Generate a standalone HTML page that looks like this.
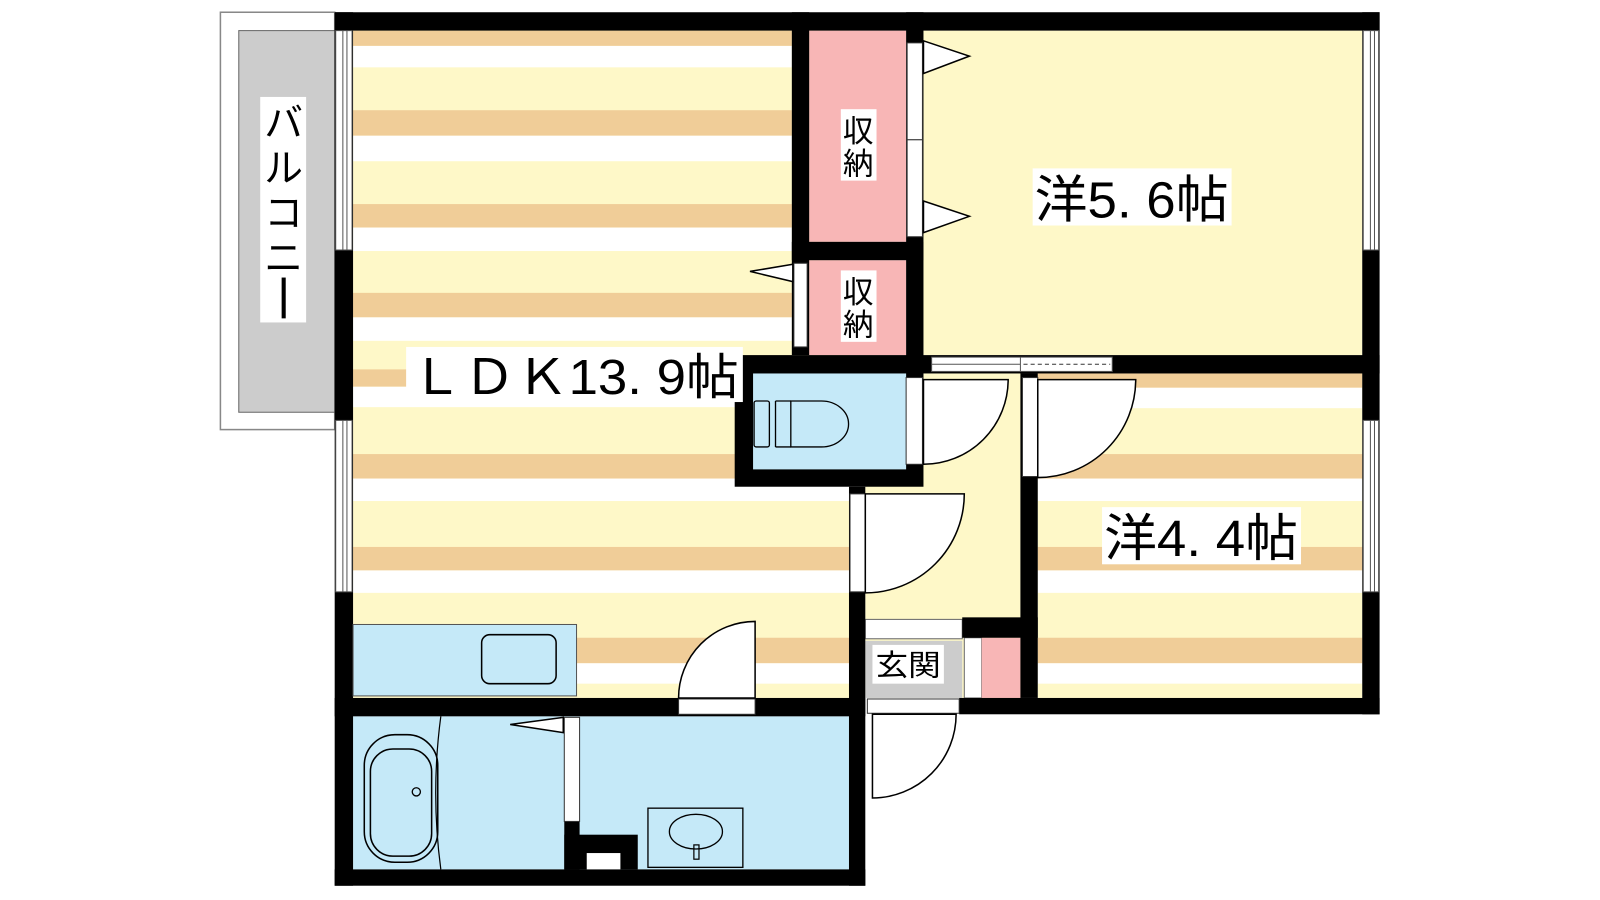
<!DOCTYPE html>
<html><head><meta charset="utf-8"><style>
html,body{margin:0;padding:0;background:#fff;width:1600px;height:900px;overflow:hidden}
svg{display:block}
text{font-family:"Liberation Sans","Noto Sans CJK JP",sans-serif;fill:#000}
</style></head><body>
<svg width="1600" height="900" viewBox="0 0 1568 882" xmlns="http://www.w3.org/2000/svg">
<rect width="1568" height="882" fill="#fff"/>
<rect x="216" y="12" width="112" height="409" fill="#fff" stroke="#888" stroke-width="1.5"/>
<rect x="234" y="30" width="94" height="374" fill="#cccccc" stroke="#666" stroke-width="1"/>
<rect x="255" y="95" width="45" height="221" fill="#fff"/>
<g font-size="38" text-anchor="middle">
<text x="278" y="134">バ</text><text x="278" y="178">ル</text><text x="278" y="222">コ</text><text x="278" y="266">ニ</text>
</g>
<rect x="276" y="272" width="4" height="40" fill="#000"/>
<rect x="346" y="30" width="486" height="654" fill="#fef8c8"/>
<rect x="905" y="30" width="430" height="318" fill="#fef8c8"/>
<rect x="848" y="366" width="152" height="318" fill="#fef8c8"/>
<rect x="1017" y="366" width="318" height="318" fill="#fef8c8"/>
<g fill="#f0cd98">
<rect x="346" y="30" width="430" height="15"/>
<rect x="346" y="108" width="430" height="25"/>
<rect x="346" y="200" width="430" height="23"/>
<rect x="346" y="287" width="430" height="24"/>
<rect x="346" y="362" width="380" height="17"/>
<rect x="346" y="445" width="486" height="24"/>
<rect x="346" y="536" width="486" height="23"/>
<rect x="346" y="625" width="486" height="25"/>
<rect x="1017" y="366" width="318" height="14"/>
<rect x="1017" y="445" width="318" height="24"/>
<rect x="1017" y="536" width="318" height="23"/>
<rect x="1017" y="625" width="318" height="25"/>
</g>
<g fill="#fff">
<rect x="346" y="45" width="430" height="21"/>
<rect x="346" y="133" width="430" height="25"/>
<rect x="346" y="223" width="430" height="23"/>
<rect x="346" y="311" width="430" height="23"/>
<rect x="346" y="379" width="380" height="20"/>
<rect x="346" y="469" width="486" height="22"/>
<rect x="346" y="559" width="486" height="22"/>
<rect x="346" y="650" width="486" height="20"/>
<rect x="1017" y="380" width="318" height="20"/>
<rect x="1017" y="469" width="318" height="22"/>
<rect x="1017" y="559" width="318" height="22"/>
<rect x="1017" y="650" width="318" height="20"/>
</g>
<rect x="793" y="30" width="95" height="207" fill="#f8b6b6"/>
<rect x="793" y="255" width="95" height="93" fill="#f8b6b6"/>
<rect x="346" y="702" width="486" height="150" fill="#c5e9f8"/>
<rect x="848" y="628" width="95" height="56" fill="#cccccc"/>
<rect x="848" y="607" width="95" height="19" fill="#fff" stroke="#666" stroke-width="1"/>
<rect x="945" y="625" width="17" height="59" fill="#fff" stroke="#666" stroke-width="1"/>
<rect x="962" y="625" width="38" height="59" fill="#f8b6b6"/>
<g fill="#000">
<rect x="328" y="12" width="1024" height="18"/>
<rect x="328" y="12" width="18" height="856"/>
<rect x="1335" y="12" width="17" height="688"/>
<rect x="940" y="684" width="412" height="16"/>
<rect x="328" y="684" width="520" height="18"/>
<rect x="328" y="852" width="520" height="16"/>
<rect x="832" y="477" width="16" height="391"/>
<rect x="776" y="12" width="17" height="336"/>
<rect x="776" y="237" width="129" height="18"/>
<rect x="888" y="12" width="17" height="354"/>
<rect x="888" y="348" width="464" height="18"/>
<rect x="720" y="348" width="185" height="129"/>
<rect x="1000" y="366" width="17" height="318"/>
<rect x="943" y="605" width="74" height="20"/>
<rect x="553" y="805" width="15" height="47"/>
<rect x="553" y="818" width="72" height="34"/>
</g>
<rect x="575" y="836" width="33" height="16" fill="#fff"/>
<rect x="738" y="366" width="150" height="94" fill="#c5e9f8"/>
<g fill="#fff" stroke="#555" stroke-width="1">
<rect x="329" y="30" width="16" height="215"/>
<rect x="329" y="412" width="16" height="168"/>
<rect x="1336" y="30" width="15" height="215"/>
<rect x="1336" y="412" width="15" height="168"/>
</g>
<g stroke="#555" stroke-width="1">
<line x1="336" y1="30" x2="336" y2="245"/><line x1="340" y1="30" x2="340" y2="245"/>
<line x1="336" y1="412" x2="336" y2="580"/><line x1="340" y1="412" x2="340" y2="580"/>
<line x1="1343" y1="30" x2="1343" y2="245"/><line x1="1347" y1="30" x2="1347" y2="245"/>
<line x1="1343" y1="412" x2="1343" y2="580"/><line x1="1347" y1="412" x2="1347" y2="580"/>
</g>
<rect x="913" y="350" width="177" height="14" fill="#fff" stroke="#555" stroke-width="1"/>
<line x1="913" y1="357" x2="1000" y2="357" stroke="#555" stroke-width="1"/>
<line x1="1000" y1="350" x2="1000" y2="364" stroke="#555" stroke-width="1"/>
<line x1="1003" y1="357" x2="1088" y2="357" stroke="#333" stroke-width="1" stroke-dasharray="4,3"/>
<g fill="#fff" stroke="#333" stroke-width="1">
<rect x="889" y="42" width="15" height="95"/>
<rect x="889" y="137" width="15" height="95"/>
<rect x="778" y="258" width="13" height="82"/>
<rect x="888" y="370" width="16" height="85"/>
<rect x="1002" y="370" width="15" height="97"/>
<rect x="833" y="484" width="15" height="96"/>
<rect x="665" y="685" width="75" height="15"/>
<rect x="850" y="685" width="90" height="14"/>
<rect x="553" y="703" width="15" height="102"/>
</g>
<g fill="#fff" stroke="#000" stroke-width="1.5">
<path d="M905,372 L988,372 A83,83 0 0 1 905,455 Z"/>
<path d="M1017,372 L1113,372 A96,96 0 0 1 1017,468 Z"/>
<path d="M848,484 L945,484 A97,97 0 0 1 848,581 Z"/>
<path d="M740,684 L740,609 A75,75 0 0 0 665,684 Z"/>
<path d="M855,700 L855,782 A82,82 0 0 0 937,700 Z"/>
<polygon points="905,40 950,55 905,72"/>
<polygon points="905,197 950,212 905,228"/>
<polygon points="777,259 735,266 777,276"/>
<polygon points="552,703 500,710 552,718"/>
</g>
<rect x="346" y="612" width="219" height="70" fill="#c5e9f8" stroke="#555" stroke-width="1"/>
<rect x="472" y="622" width="73" height="48" rx="8" fill="none" stroke="#000" stroke-width="1.5"/>
<g fill="none" stroke="#000" stroke-width="1.3">
<rect x="739" y="393" width="15" height="45" rx="2"/>
<path d="M775,393 L805,393 A26,22 0 0 1 805,438 L775,438 Z"/>
<path d="M760,393 L760,438 M760,393 L775,393 M760,438 L775,438"/>
</g>
<path d="M432,702 Q422,777 432,852" fill="none" stroke="#000" stroke-width="1.2"/>
<rect x="357" y="720" width="72" height="125" rx="30" fill="none" stroke="#000" stroke-width="1.5"/>
<rect x="363" y="734" width="60" height="105" rx="22" fill="none" stroke="#000" stroke-width="1.5"/>
<circle cx="408" cy="776" r="4" fill="none" stroke="#000" stroke-width="1.3"/>
<rect x="635" y="792" width="93" height="58" fill="none" stroke="#000" stroke-width="1.3"/>
<ellipse cx="682" cy="815" rx="26" ry="17" fill="none" stroke="#000" stroke-width="1.3"/>
<rect x="680" y="828" width="5" height="14" fill="none" stroke="#000" stroke-width="1.2"/>
<rect x="824" y="107" width="35" height="70" fill="#fff"/>
<text x="841" y="139" font-size="30" text-anchor="middle">収</text>
<text x="841" y="171" font-size="30" text-anchor="middle">納</text>
<rect x="824" y="265" width="35" height="70" fill="#fff"/>
<text x="841" y="297" font-size="30" text-anchor="middle">収</text>
<text x="841" y="329" font-size="30" text-anchor="middle">納</text>
<rect x="398" y="340" width="330" height="54" fill="#fff"/>
<text x="402" y="386" font-size="48" textLength="322" lengthAdjust="spacingAndGlyphs">ＬＤＫ13. 9帖</text>
<rect x="1012" y="165" width="195" height="56" fill="#fff"/>
<text x="1014" y="213" font-size="50" textLength="190" lengthAdjust="spacingAndGlyphs">洋5. 6帖</text>
<rect x="1080" y="497" width="195" height="56" fill="#fff"/>
<text x="1082" y="545" font-size="50" textLength="190" lengthAdjust="spacingAndGlyphs">洋4. 4帖</text>
<rect x="855" y="632" width="70" height="38" fill="#fff"/>
<text x="858" y="662" font-size="29" textLength="64" lengthAdjust="spacingAndGlyphs">玄関</text>
</svg>
</body></html>
